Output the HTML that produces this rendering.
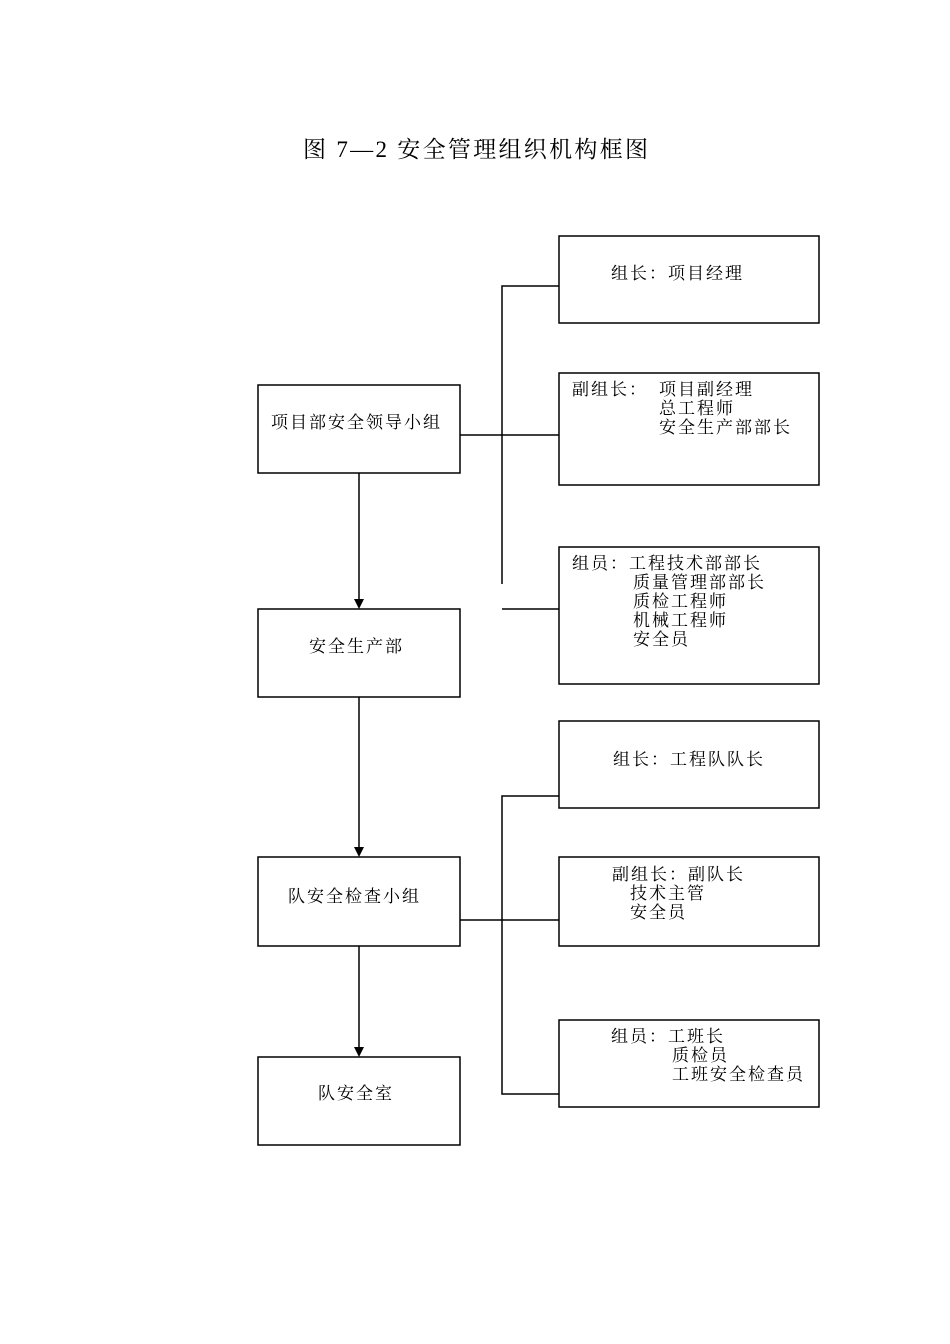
<!DOCTYPE html>
<html><head><meta charset="utf-8"><style>
html,body{margin:0;padding:0;background:#fff;}
svg{display:block;}
text{font-family:"Liberation Serif","Noto Serif CJK SC","Noto Sans CJK SC",serif;fill:#000;}
</style></head><body>
<svg width="950" height="1344" viewBox="0 0 950 1344" xmlns="http://www.w3.org/2000/svg">
<text x="303" y="157" font-size="23" textLength="345" lengthAdjust="spacing">图 7—2 安全管理组织机构框图</text>
<g fill="none" stroke="#000" stroke-width="1.5">
<rect x="258" y="385" width="202" height="88"/>
<rect x="258" y="609" width="202" height="88"/>
<rect x="258" y="857" width="202" height="89"/>
<rect x="258" y="1057" width="202" height="88"/>
<rect x="559" y="236" width="260" height="87"/>
<rect x="559" y="373" width="260" height="112"/>
<rect x="559" y="547" width="260" height="137"/>
<rect x="559" y="721" width="260" height="87"/>
<rect x="559" y="857" width="260" height="89"/>
<rect x="559" y="1020" width="260" height="87"/>
<path d="M502 584 V286 H559 M460 435 H559 M502 609 H559 M559 796 H502 V1094 H559 M460 920 H559"/>
<path d="M359 473 V600 M359 697 V848 M359 946 V1048"/>
</g>
<g fill="#000">
<polygon points="354,599 364,599 359,609"/>
<polygon points="354,847 364,847 359,857"/>
<polygon points="354,1047 364,1047 359,1057"/>
</g>
<g font-size="17" letter-spacing="2">
<text x="271" y="428">项目部安全领导小组</text>
<text x="309" y="652">安全生产部</text>
<text x="288" y="902">队安全检查小组</text>
<text x="318" y="1099">队安全室</text>
<text x="611" y="279">组长：项目经理</text>
<text x="572" y="395">副组长：</text>
<text x="659" y="395">项目副经理</text>
<text x="659" y="414">总工程师</text>
<text x="659" y="433">安全生产部部长</text>
<text x="572" y="569">组员：工程技术部部长</text>
<text x="633" y="588">质量管理部部长</text>
<text x="633" y="607">质检工程师</text>
<text x="633" y="626">机械工程师</text>
<text x="633" y="645">安全员</text>
<text x="613" y="765">组长：工程队队长</text>
<text x="612" y="880">副组长：副队长</text>
<text x="630" y="899">技术主管</text>
<text x="630" y="918">安全员</text>
<text x="611" y="1042">组员：工班长</text>
<text x="672" y="1061">质检员</text>
<text x="672" y="1080">工班安全检查员</text>
</g>
</svg>
</body></html>
